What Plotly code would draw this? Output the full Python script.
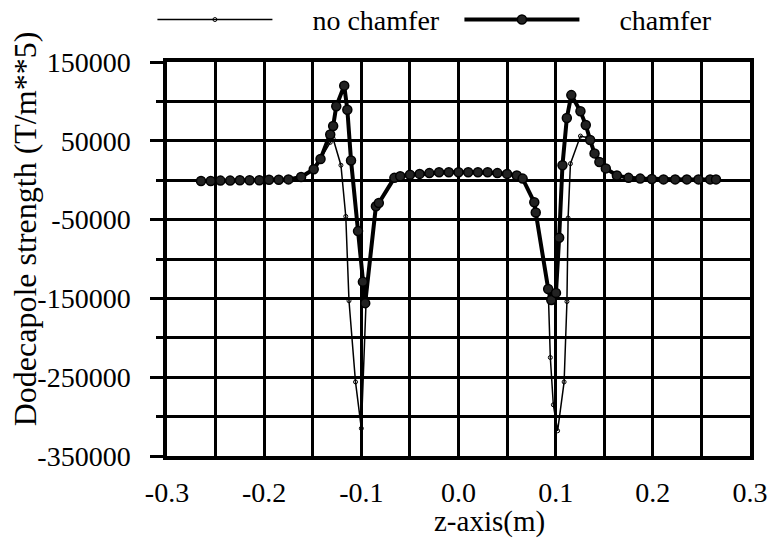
import plotly.graph_objects as go

# Dodecapole field strength along the magnet axis, with and without pole-end chamfer
z_chamfer = [-0.265, -0.255, -0.245, -0.235, -0.225, -0.215, -0.205, -0.195, -0.185,
             -0.175, -0.162, -0.149, -0.142, -0.132, -0.129, -0.1258, -0.1176, -0.1144,
             -0.1106, -0.1034, -0.0984, -0.096, -0.085, -0.082, -0.066,
             -0.06, -0.05, -0.04, -0.03, -0.02, -0.01, 0.0, 0.01, 0.02, 0.03, 0.04,
             0.05, 0.06, 0.066, 0.078, 0.0795, 0.0923, 0.0955, 0.1003, 0.1036,
             0.107, 0.1115, 0.1161, 0.1255, 0.131, 0.1355, 0.140, 0.145, 0.1516,
             0.163, 0.175, 0.187, 0.199, 0.211, 0.223, 0.235, 0.247, 0.259, 0.265]
b6_chamfer = [-1000, -1000, -500, -500, 0, 0, 0, 500, 500,
              1000, 4000, 14000, 27000, 58000, 68750, 93750, 120000, 89500,
              25000, -64600, -129000, -156000, -33000, -29000, 3000,
              5000, 7000, 8000, 9000, 10000, 10000, 10000, 10000, 10000, 10000, 9000,
              8000, 6000, 2000, -28000, -41000, -138000, -152000, -143000, -73000,
              19000, 79000, 108000, 87500, 70000, 51000, 34000, 23000, 15000,
              6000, 3000, 2000, 1500, 1000, 1000, 1000, 1000, 1000, 1000]

z_plain = [-0.265, -0.255, -0.245, -0.235, -0.225, -0.215, -0.205, -0.195, -0.185,
           -0.175, -0.162, -0.149, -0.142, -0.132, -0.129, -0.121, -0.116, -0.1127,
           -0.106, -0.100, -0.095, -0.085, -0.082, -0.066,
           -0.06, -0.05, -0.04, -0.03, -0.02, -0.01, 0.0, 0.01, 0.02, 0.03, 0.04,
           0.05, 0.06, 0.066, 0.078, 0.0795, 0.0923, 0.0945, 0.0976, 0.102,
           0.1087, 0.1116, 0.1128, 0.1152, 0.1255, 0.133, 0.140, 0.145, 0.1516,
           0.163, 0.175, 0.187, 0.199, 0.211, 0.223, 0.235, 0.247, 0.259, 0.265]
b6_plain = [-1000, -1000, -500, -500, 0, 0, 0, 500, 500,
            1000, 4000, 14000, 27000, 48000, 52700, 19000, -46000, -153000,
            -256000, -315000, -150000, -33000, -29000, 3000,
            5000, 7000, 8000, 9000, 10000, 10000, 10000, 10000, 10000, 10000, 9000,
            8000, 6000, 2000, -28000, -41000, -138000, -225000, -285000, -318000,
            -256000, -154000, -48000, 21000, 56000, 54000, 34000, 23000, 15000,
            6000, 3000, 2000, 1500, 1000, 1000, 1000, 1000, 1000, 1000]

x_tick_vals = [-0.3, -0.2, -0.1, 0.0, 0.1, 0.2, 0.3]
x_tick_text = ["-0.3", "-0.2", "-0.1", "0.0", "0.1", "0.2", "0.3"]
y_tick_vals = [150000, 50000, -50000, -150000, -250000, -350000]
y_tick_text = ["150000", "50000", "-50000", "-150000", "-250000", "-350000"]

FONT = "Liberation Serif"
GAP = "\u00a0" * 5  # space between legend sample and its label

fig = go.Figure()
fig.add_trace(go.Scatter(
    x=z_plain, y=b6_plain, name=GAP + "no chamfer", mode="lines+markers",
    line=dict(color="black", width=1.5),
    marker=dict(symbol="circle-open", size=4, color="black", line=dict(width=1)),
))
fig.add_trace(go.Scatter(
    x=z_chamfer, y=b6_chamfer, name=GAP + "chamfer", mode="lines+markers",
    line=dict(color="black", width=4),
    marker=dict(symbol="circle", size=9, color="#222222",
                line=dict(color="black", width=1.5)),
))

fig.update_layout(
    width=777, height=544,
    margin=dict(l=167, r=27, t=62, b=88, autoexpand=False),
    paper_bgcolor="white", plot_bgcolor="white",
    font=dict(family=FONT, size=28, color="black"),
    showlegend=True,
    legend=dict(orientation="h", x=-0.025, xanchor="left", y=1.107, yanchor="middle",
                itemwidth=115, entrywidth=177, entrywidthmode="pixels",
                font=dict(family=FONT, size=28, color="black"),
                bgcolor="rgba(0,0,0,0)", itemclick=False),
    xaxis=dict(
        range=[-0.3, 0.3], tickvals=x_tick_vals, ticktext=x_tick_text,
        showgrid=True, gridcolor="black", gridwidth=2.5,
        minor=dict(dtick=0.05, tick0=0, showgrid=True, gridcolor="black", gridwidth=2.5),
        showline=True, linecolor="black", linewidth=4, mirror=True,
        ticks="", ticklabelstandoff=8, zeroline=False,
        tickfont=dict(family=FONT, size=28, color="black"),
    ),
    yaxis=dict(
        range=[-350000, 150000], tickvals=y_tick_vals, ticktext=y_tick_text,
        showgrid=True, gridcolor="black", gridwidth=2.5,
        minor=dict(dtick=50000, tick0=0, showgrid=True, gridcolor="black", gridwidth=2.5,
                   ticks="outside", ticklen=7, tickwidth=2.5, tickcolor="black"),
        showline=True, linecolor="black", linewidth=3.5, mirror=True,
        ticks="outside", ticklen=13, tickwidth=2.5, tickcolor="black",
        ticklabelstandoff=14, zeroline=False,
        tickfont=dict(family=FONT, size=28, color="black"),
    ),
    annotations=[
        dict(text="Dodecapole strength (T/m**5)", xref="paper", yref="paper",
             x=-0.2436, y=0.578, xanchor="center", yanchor="middle", textangle=-90,
             showarrow=False, font=dict(family=FONT, size=32, color="black")),
        dict(text="z-axis(m)", xref="paper", yref="paper",
             x=0.554, y=-0.1675, xanchor="center", yanchor="middle",
             showarrow=False, font=dict(family=FONT, size=29, color="black")),
    ],
)

fig.write_html("out.html")
